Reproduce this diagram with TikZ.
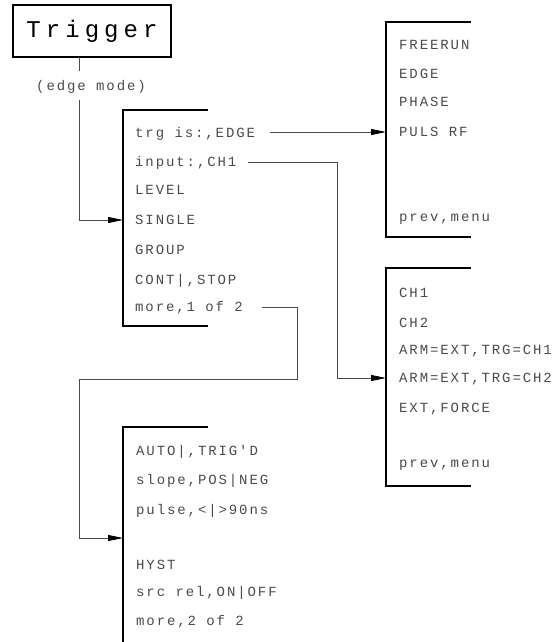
\documentclass[tikz,border=0pt]{standalone}
\usepackage{fontspec}
\usetikzlibrary{arrows.meta}
\newfontfamily\plotfont[LetterSpace=13.6]{Liberation Mono}
\newfontfamily\titlefont[LetterSpace=21]{Liberation Mono}
\definecolor{ink}{HTML}{4A4A4A}
\begin{document}
\begin{tikzpicture}[x=1pt,y=-1pt,
  menuframe/.style={line width=2pt,black},
  softkey/.style={anchor=base west,inner sep=0pt,text=ink,font=\plotfont\fontsize{14}{16}\selectfont},
  link/.style={line width=0.8pt,ink},
  linkarrow/.style={link,-{Triangle[length=15pt,width=6pt,color=black]}}]
\useasboundingbox (0,0) rectangle (557,642);

% title box
\node[draw,line width=2.2pt,minimum width=158pt,minimum height=52pt,inner sep=0pt,
      font=\titlefont\fontsize{24}{26}\selectfont] (title) at (92,31) {Trigger};
\node[softkey,anchor=base] (mode) at (91,90.5) {(edge mode)};

% menu frames
\draw[menuframe] (208,110) -- (123,110) -- (123,326) -- (208,326);
\draw[menuframe] (471,22) -- (386,22) -- (386,237) -- (471,237);
\draw[menuframe] (471,268) -- (386,268) -- (386,486) -- (471,486);
\draw[menuframe] (208,427) -- (123,427) -- (123,646);

% main trigger menu
\node[softkey] (trg)    at (135,137) {trg is:,EDGE};
\node[softkey] (input)  at (135,166) {input:,CH1};
\node[softkey] (level)  at (135,194.5) {LEVEL};
\node[softkey] (single) at (135,224.5) {SINGLE};
\node[softkey] (group)  at (135,254.5) {GROUP};
\node[softkey] (cont)   at (135,284.5) {CONT|,STOP};
\node[softkey] (more1)  at (135,311.5) {more,1 of 2};

% trigger type menu
\node[softkey] (freerun) at (399,49.5) {FREERUN};
\node[softkey] (edge)    at (399,78.5) {EDGE};
\node[softkey] (phase)   at (399,106.5) {PHASE};
\node[softkey] (pulsrf)  at (399,136.5) {PULS RF};
\node[softkey] (prevA)   at (399,221.5) {prev,menu};

% input menu
\node[softkey] (ch1)   at (399,297.5) {CH1};
\node[softkey] (ch2)   at (399,327.5) {CH2};
\node[softkey] (arm1)  at (399,354.5) {ARM=EXT,TRG=CH1};
\node[softkey] (arm2)  at (399,382.5) {ARM=EXT,TRG=CH2};
\node[softkey] (force) at (399,412.5) {EXT,FORCE};
\node[softkey] (prevB) at (399,467.5) {prev,menu};

% second page of the trigger menu
\node[softkey] (auto)   at (136,455.5) {AUTO|,TRIG'D};
\node[softkey] (slope)  at (136,484.5) {slope,POS|NEG};
\node[softkey] (pulse)  at (136,514.5) {pulse,<|>90ns};
\node[softkey] (hyst)   at (136,569.5) {HYST};
\node[softkey] (srcrel) at (136,596.5) {src rel,ON|OFF};
\node[softkey] (more2)  at (136,625.5) {more,2 of 2};

% connector end points
\coordinate (titleout) at (79,57);
\coordinate (modeabove) at (79,71);
\coordinate (modebelow) at (79,100);
\coordinate (singlein) at (123,220);
\coordinate (trgout) at (270,132);
\coordinate (typein) at (386,132);
\coordinate (inputout) at (248,162);
\coordinate (chin) at (386,378);
\coordinate (more1out) at (262,307);
\coordinate (page2in) at (123,538);

% connectors
\draw[link] (titleout) -- (modeabove);
\draw[linkarrow] (modebelow) |- (singlein);
\draw[linkarrow] (trgout) -- (typein);
\draw[linkarrow] (inputout) -- (337,162) |- (chin);
\draw[linkarrow] (more1out) -- (297,307) -- (297,379) -- (79,379) |- (page2in);
\end{tikzpicture}
\end{document}
